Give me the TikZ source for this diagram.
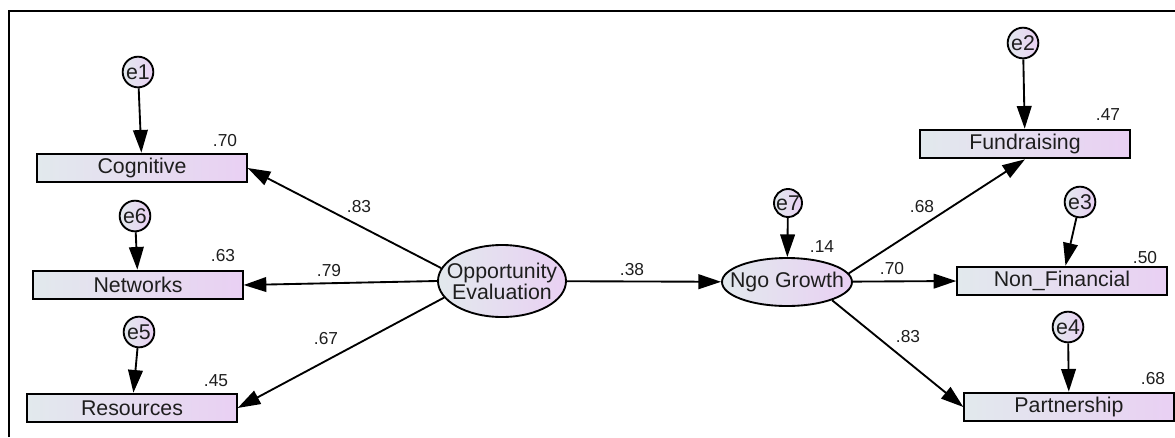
\documentclass[tikz,border=0pt]{standalone}
\usepackage{fontspec}
\setmainfont{Liberation Sans}
\usetikzlibrary{shapes.geometric, arrows.meta, positioning}
\definecolor{boxleft}{RGB}{226,233,237}
\definecolor{boxright}{RGB}{233,208,243}
\definecolor{txt}{RGB}{30,30,30}

\begin{document}
\begin{tikzpicture}[x=0.75pt, y=-0.75pt,
        obs/.style={draw, line width=1.5pt, rectangle, minimum width=157pt, minimum height=21.5pt, inner sep=0pt, left color=boxleft, right color=boxright, text=txt, font=\fontsize{16}{18}\selectfont},
        lat/.style={draw, line width=1.4pt, ellipse, inner ysep=0pt, left color=boxleft, right color=boxright, text=txt, align=center, font=\fontsize{16}{14}\selectfont},
        err/.style={draw, line width=1.4pt, circle, minimum size=23pt, inner sep=0pt, left color=boxleft, right color=boxright, text=txt, font=\fontsize{16}{17}\selectfont},
        est/.style={inner sep=0pt, text=txt, font=\fontsize{13}{15}\selectfont},
        reg/.style={-{Triangle[length=17pt,width=11pt]}, line width=1.4pt}]
        \useasboundingbox (0,0) rectangle (1175,437);
        \draw [line width=1.5pt] (9,437) -- (9,11) -- (1175,11);

        % indicators
        \node (cog) [obs] at (142,168) {Cognitive};
        \node (net) [obs] at (138,285) {Networks};
        \node (res) [obs] at (132,408) {Resources};
        \node (fund) [obs] at (1025,144) {Fundraising};
        \node (nonfin) [obs] at (1062,281) {Non\_Financial};
        \node (part) [obs] at (1069,407) {Partnership};

        % latent variables
        \node (opp) [lat, minimum width=96pt, minimum height=54pt, inner xsep=-8pt] at (502,281) {Opportunity\\Evaluation};
        \node (ngo) [lat, minimum width=97.5pt, minimum height=36pt, inner xsep=-10pt] at (787,282) {Ngo Growth};

        % error terms
        \node (e1) [err] at (138,72) {e1};
        \node (e6) [err] at (135,216) {e6};
        \node (e5) [err] at (139,332) {e5};
        \node (e2) [err] at (1023,43) {e2};
        \node (e3) [err] at (1080,202) {e3};
        \node (e4) [err] at (1068,327) {e4};
        \node (e7) [err, minimum size=20pt] at (788,203) {e7};

        % Lines
        \draw [reg] (e1) -- (cog);
        \draw [reg] (e6) -- (net);
        \draw [reg] (e5) -- (res);
        \draw [reg] (e2) -- (fund);
        \draw [reg] (e3) -- (nonfin);
        \draw [reg] (e4) -- (part);
        \draw [reg] (e7) -- (ngo);
        \draw [reg] (opp.168) -- (cog.east);
        \draw [reg] (opp.west) -- (net.east);
        \draw [reg] (opp.196) -- (res.east);
        \draw [reg] (opp) -- (ngo);
        \draw [reg] (ngo.8) -- (fund.south);
        \draw [reg] (ngo) -- (nonfin.west);
        \draw [reg] (ngo.-22) -- (part.west);

        % squared multiple correlations
        \node (sqcog) [est] at (225,141) {.70};
        \node (sqnet) [est] at (223,256) {.63};
        \node (sqres) [est] at (216,381) {.45};
        \node (sqfund) [est] at (1108,115) {.47};
        \node (sqnonfin) [est] at (1145,258) {.50};
        \node (sqpart) [est] at (1153,379) {.68};
        \node (sqngo) [est] at (822,247) {.14};

        % path weights
        \node (wcog) [est] at (359,207) {.83};
        \node (wnet) [est] at (329,271) {.79};
        \node (wres) [est] at (326,339) {.67};
        \node (wngo) [est] at (632,270) {.38};
        \node (wfund) [est] at (922,207) {.68};
        \node (wnonfin) [est] at (892,269) {.70};
        \node (wpart) [est] at (908,337) {.83};
    \end{tikzpicture}
\end{document}
